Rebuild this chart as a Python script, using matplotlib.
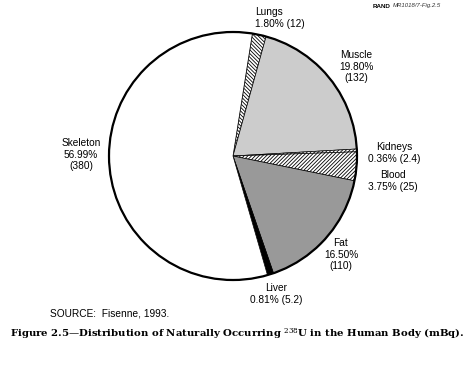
import matplotlib.pyplot as plt
from matplotlib.patches import Circle

plt.rcParams['mathtext.fontset'] = 'dejavuserif'
plt.rcParams['hatch.linewidth'] = 0.6

# data
organs = ["Lungs", "Muscle", "Kidneys", "Blood", "Fat", "Liver", "Skeleton"]
percents = [1.80, 19.80, 0.36, 3.75, 16.50, 0.81, 56.99]
activity_mbq = [12, 132, 2.4, 25, 110, 5.2, 380]

# styles / layout (pixel coords in the 468x381 image)
colors = ["white", "#cccccc", "white", "white", "#999999", "black", "white"]
hatches = ["\\" * 9, None, "/" * 9, "/" * 9, None, None, None]
label_pos = [(255, 12, "left"), (356, 55, "center"), (394, 147, "center"),
             (393, 175, "center"), (341, 243, "center"), (276, 288, "center"),
             (81, 143, "center")]
three_line = [False, True, False, False, True, False, True]

W, H = 468, 381
fig = plt.figure(figsize=(W / 100, H / 100), dpi=100)
ax = fig.add_axes([0, 0, 1, 1])

cx, cy, r = 233, H - 156, 124
wedges, _ = ax.pie(percents, colors=colors, startangle=81, counterclock=False,
                   center=(cx, cy), radius=r,
                   wedgeprops=dict(edgecolor="black", linewidth=0.5))
for w, h in zip(wedges, hatches):
    if h:
        w.set_hatch(h)
ax.add_patch(Circle((cx, cy), r, fill=False, edgecolor="black", linewidth=1.6))

ax.set_xlim(0, W)
ax.set_ylim(0, H)
ax.set_aspect("auto")
ax.axis("off")

# first line of each label centred at the given y
for name, p, v, (x, y, ha), tl in zip(organs, percents, activity_mbq, label_pos, three_line):
    sep = "\n" if tl else " "
    txt = f"{name}\n{p:.2f}%{sep}({v:g})"
    ax.text(x, H - y + 5, txt, ha=ha, va="top", multialignment=ha,
            fontsize=7.3, family="Liberation Sans", linespacing=1.2)

ax.text(50, H - 313, "SOURCE:  Fisenne, 1993.", ha="left", va="center",
        fontsize=7.3, family="Liberation Sans")
ax.text(373, H - 6, "RAND", ha="left", va="center", fontsize=4.5,
        family="Liberation Sans", weight="bold")
ax.text(393, H - 6, "MR1018/7-Fig.2.5", ha="left", va="center", fontsize=4.3,
        family="Liberation Sans", style="italic", color="#333333")
ax.text(237, H - 334,
        r"Figure 2.5—Distribution of Naturally Occurring $^{238}$U in the Human Body (mBq).",
        ha="center", va="center", fontsize=7.3, family="DejaVu Serif", weight="bold")

fig.savefig("out.png", dpi=100)
